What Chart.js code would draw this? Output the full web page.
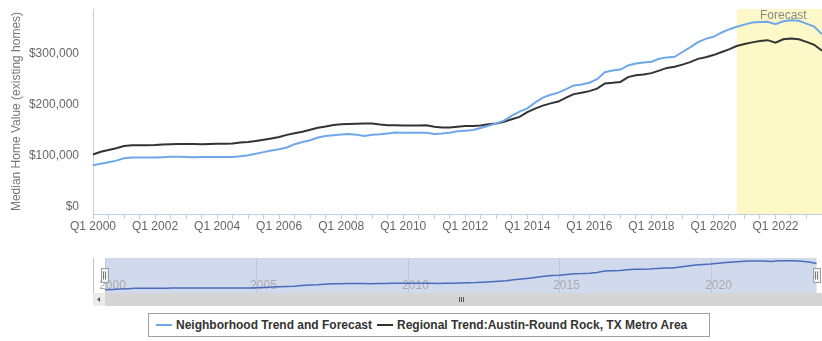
<!DOCTYPE html>
<html>
<head>
<meta charset="utf-8">
<script src="https://cdn.jsdelivr.net/npm/chart.js@4.4.1/dist/chart.umd.min.js"></script>
<style>
  body { margin: 0; background: #fff; font-family: "Liberation Sans", Arial, sans-serif; }
  #wrap { position: relative; width: 822px; height: 341px; overflow: hidden; }
  #main { position: absolute; left: 0; top: 0; }
  #nav { position: absolute; left: 0; top: 255px; }
  #legend {
    position: absolute; left: 148px; top: 313px; width: 562px; height: 24px;
    border: 1px solid #a0a0a0; display: flex; align-items: center;
    font-size: 12px; font-weight: bold; color: #333; padding-left: 7px; box-sizing: border-box;
  }
  .item { display: flex; align-items: center; margin-right: 5px; }
  .sym { width: 16px; height: 2px; margin-right: 4px; }
</style>
</head>
<body>
<div id="wrap">
  <canvas id="main" width="822" height="240"></canvas>
  <canvas id="nav" width="822" height="55"></canvas>
  <div id="legend"></div>
</div>
<script>
// quarterly median home values, Q1 2000 .. Q3 2023
const firstYear = 2000;
const neighborhood = [
  95200, 98100, 101000, 104100,
  108800, 110200, 110200, 110200,
  110200, 110800, 111600, 111800,
  111200, 110800, 111000, 111200,
  111400, 111400, 111400, 112700,
  114700, 117600, 120700, 123900,
  126400, 129700, 136200, 140500,
  144000, 149300, 152000, 153800,
  155100, 156300, 154700, 152000,
  154500, 155700, 157300, 158900,
  158700, 158500, 158700, 158700,
  156300, 156900, 158700, 161400,
  162600, 164100, 167800, 172300,
  176800, 182100, 192100, 199700,
  206100, 217300, 227000, 232700,
  236800, 243600, 250900, 252600,
  256200, 263000, 276500, 279800,
  281900, 289800, 293700, 295400,
  297000, 302900, 305600, 306600,
  316100, 325100, 335500, 341700,
  345800, 353700, 360100, 365400,
  369500, 373600, 374600, 375100,
  370300, 376100, 378100, 377100,
  371400, 365600, 350500
];
const regional = [
  116100, 121500, 124900, 128400,
  132700, 134000, 134200, 134200,
  134600, 135800, 136200, 136600,
  136600, 136400, 136200, 136600,
  137000, 137200, 137600, 139300,
  140500, 142600, 145000, 147500,
  150300, 154400, 157700, 160600,
  164500, 168400, 170800, 173700,
  175300, 175700, 176000, 176400,
  176600, 174700, 173300, 173100,
  172900, 172700, 172900, 173100,
  170400, 168800, 168800, 170400,
  171900, 171900, 172700, 174900,
  176600, 180100, 185000, 189500,
  198700, 205700, 211400, 215900,
  219400, 227000, 233900, 236600,
  239700, 244600, 254800, 256000,
  257700, 267100, 270600, 272400,
  274900, 279800, 285100, 287200,
  291500, 296400, 302700, 305800,
  310100, 315600, 321200, 327700,
  331600, 334900, 337600, 339200,
  334300, 340800, 342500, 341000,
  335900, 330200, 318500
];
const seriesNames = ['Neighborhood Trend and Forecast', 'Regional Trend:Austin-Round Rock, TX Metro Area'];
const seriesColors = ['#6fa8e8', '#333333'];
const forecastFrom = 'Q4 2020';
const yTicks = [0, 100000, 200000, 300000];
const navYears = [2000, 2005, 2010, 2015, 2020];

const quarters = neighborhood.map((_, i) => 'Q' + (i % 4 + 1) + ' ' + (firstYear + Math.floor(i / 4)));

const FONT = '"Liberation Sans", Arial, sans-serif';
const axisColor = '#C0D0E0';

// yellow forecast band with its caption
const forecastBand = {
  id: 'forecastBand',
  beforeDraw(chart) {
    const { ctx, chartArea: a, scales: { x } } = chart;
    const x0 = x.getPixelForValue(quarters.indexOf(forecastFrom));
    ctx.save();
    ctx.fillStyle = '#fdf8c8';
    ctx.fillRect(x0, a.top, a.right - x0, a.bottom - a.top);
    ctx.fillStyle = '#888';
    ctx.font = '12px ' + FONT;
    ctx.textAlign = 'center';
    ctx.textBaseline = 'middle';
    ctx.fillText('Forecast', (x0 + a.right) / 2 + 4, a.top + 7);
    ctx.restore();
  }
};

new Chart(document.getElementById('main'), {
  type: 'line',
  data: {
    labels: quarters,
    datasets: [
      { label: seriesNames[0], data: neighborhood, borderColor: seriesColors[0] },
      { label: seriesNames[1], data: regional, borderColor: seriesColors[1] }
    ]
  },
  options: {
    responsive: false,
    animation: false,
    layout: { padding: { top: 9, right: 0, left: 0, bottom: 0 } },
    plugins: { legend: { display: false }, tooltip: { enabled: false } },
    elements: { point: { radius: 0 }, line: { tension: 0, borderWidth: 2 } },
    scales: {
      x: {
        grid: {
          drawOnChartArea: false,
          tickLength: 5,
          tickColor: c => (c.index % 2 === 0 ? axisColor : 'rgba(0,0,0,0)')
        },
        border: { color: axisColor },
        ticks: {
          autoSkip: false, maxRotation: 0, minRotation: 0, padding: 0,
          color: '#666', font: { family: FONT, size: 12 },
          callback: (v, i) => (i % 8 === 0 ? quarters[i] : '')
        },
        afterFit: s => { s.height = 26; s.paddingRight = 0; }
      },
      y: {
        min: 0, max: 400000,
        afterBuildTicks: s => { s.ticks = yTicks.map(v => ({ value: v })); },
        grid: { display: false, drawTicks: false },
        border: { color: axisColor },
        ticks: {
          padding: 14, labelOffset: -7,
          color: '#666', font: { family: FONT, size: 12 },
          callback: v => '$' + v.toLocaleString('en-US')
        },
        title: {
          display: true, text: 'Median Home Value (existing homes)',
          color: '#777', font: { family: FONT, size: 12 },
          padding: { top: 9, bottom: 0 }
        },
        afterFit: s => { s.width = 93; s.paddingTop = 0; s.paddingBottom = 0; }
      }
    }
  },
  plugins: [forecastBand]
});

// navigator: mask, year grid, handles and scrollbar
const navigatorParts = {
  id: 'navigatorParts',
  beforeDatasetsDraw(chart) {
    const { ctx, chartArea: a, scales: { x } } = chart;
    const x0 = x.getPixelForValue(firstYear);
    const x1 = x.getPixelForValue(firstYear + (neighborhood.length - 1) / 4);
    ctx.save();
    ctx.fillStyle = 'rgba(102,133,194,0.3)';
    ctx.fillRect(x0, a.top, x1 - x0, a.bottom - a.top);
    ctx.strokeStyle = 'rgba(60,70,110,0.12)';
    ctx.lineWidth = 1;
    ctx.fillStyle = '#aaa';
    ctx.font = '12px ' + FONT;
    ctx.textAlign = 'center';
    ctx.textBaseline = 'middle';
    navYears.forEach(yr => {
      const px = Math.round(x.getPixelForValue(yr)) + 0.5;
      ctx.beginPath();
      ctx.moveTo(px, a.top);
      ctx.lineTo(px, a.bottom);
      ctx.stroke();
      ctx.fillText(String(yr), px + 7, a.bottom - 7);
    });
    ctx.strokeStyle = '#c4c4c8';
    ctx.beginPath();
    ctx.moveTo(a.left + 0.5, a.top);
    ctx.lineTo(a.left + 0.5, a.bottom);
    ctx.stroke();
    ctx.restore();
  },
  afterDraw(chart) {
    const { ctx, chartArea: a, scales: { x } } = chart;
    const x0 = x.getPixelForValue(firstYear);
    const x1 = x.getPixelForValue(firstYear + (neighborhood.length - 1) / 4);
    const sbTop = a.bottom, sbH = 13;
    ctx.save();
    // scrollbar
    ctx.fillStyle = '#d5d5d5';
    ctx.fillRect(a.left, sbTop, a.right - a.left, sbH);
    ctx.fillStyle = '#ebebeb';
    ctx.fillRect(a.left, sbTop, x0 - a.left, sbH);
    ctx.fillStyle = '#555';
    ctx.beginPath();
    const ax = a.left + (x0 - a.left) / 2, ay = sbTop + sbH / 2;
    ctx.moveTo(ax - 2, ay);
    ctx.lineTo(ax + 1, ay - 2.5);
    ctx.lineTo(ax + 1, ay + 2.5);
    ctx.fill();
    ctx.strokeStyle = '#555';
    ctx.lineWidth = 1;
    const gx = Math.round((x0 + x1) / 2);
    [-2, 0, 2].forEach(d => {
      ctx.beginPath();
      ctx.moveTo(gx + d + 0.5, ay - 2.5);
      ctx.lineTo(gx + d + 0.5, ay + 2.5);
      ctx.stroke();
    });
    // handles
    const cy = (a.top + a.bottom) / 2;
    [x0, x1].forEach(hx => {
      const rx = Math.round(hx) - 3.5;
      ctx.fillStyle = '#f2f2f2';
      ctx.strokeStyle = '#9a9a9a';
      ctx.fillRect(rx, cy - 7, 7, 14);
      ctx.strokeRect(rx, cy - 7, 7, 14);
      ctx.strokeStyle = '#777';
      [2, 4].forEach(d => {
        ctx.beginPath();
        ctx.moveTo(rx + d, cy - 4);
        ctx.lineTo(rx + d, cy + 4);
        ctx.stroke();
      });
    });
    ctx.restore();
  }
};

new Chart(document.getElementById('nav'), {
  type: 'line',
  data: {
    datasets: [{
      data: neighborhood.map((v, i) => ({ x: firstYear + i / 4, y: v })),
      borderColor: '#4a6cbc', borderWidth: 1.5, pointRadius: 0, tension: 0
    }]
  },
  options: {
    responsive: false,
    animation: false,
    layout: { padding: { left: 93, right: 0, top: 3, bottom: 17 } },
    plugins: { legend: { display: false }, tooltip: { enabled: false } },
    scales: {
      x: { type: 'linear', display: false, min: 1999.6, max: 2023.68 },
      y: { display: false, min: 63000, max: 404000 }
    }
  },
  plugins: [navigatorParts]
});

// legend
const legend = document.getElementById('legend');
seriesNames.forEach((name, i) => {
  const item = document.createElement('span');
  item.className = 'item';
  const sym = document.createElement('span');
  sym.className = 'sym';
  sym.style.background = seriesColors[i];
  item.appendChild(sym);
  item.appendChild(document.createTextNode(name));
  legend.appendChild(item);
});
</script>
</body>
</html>
